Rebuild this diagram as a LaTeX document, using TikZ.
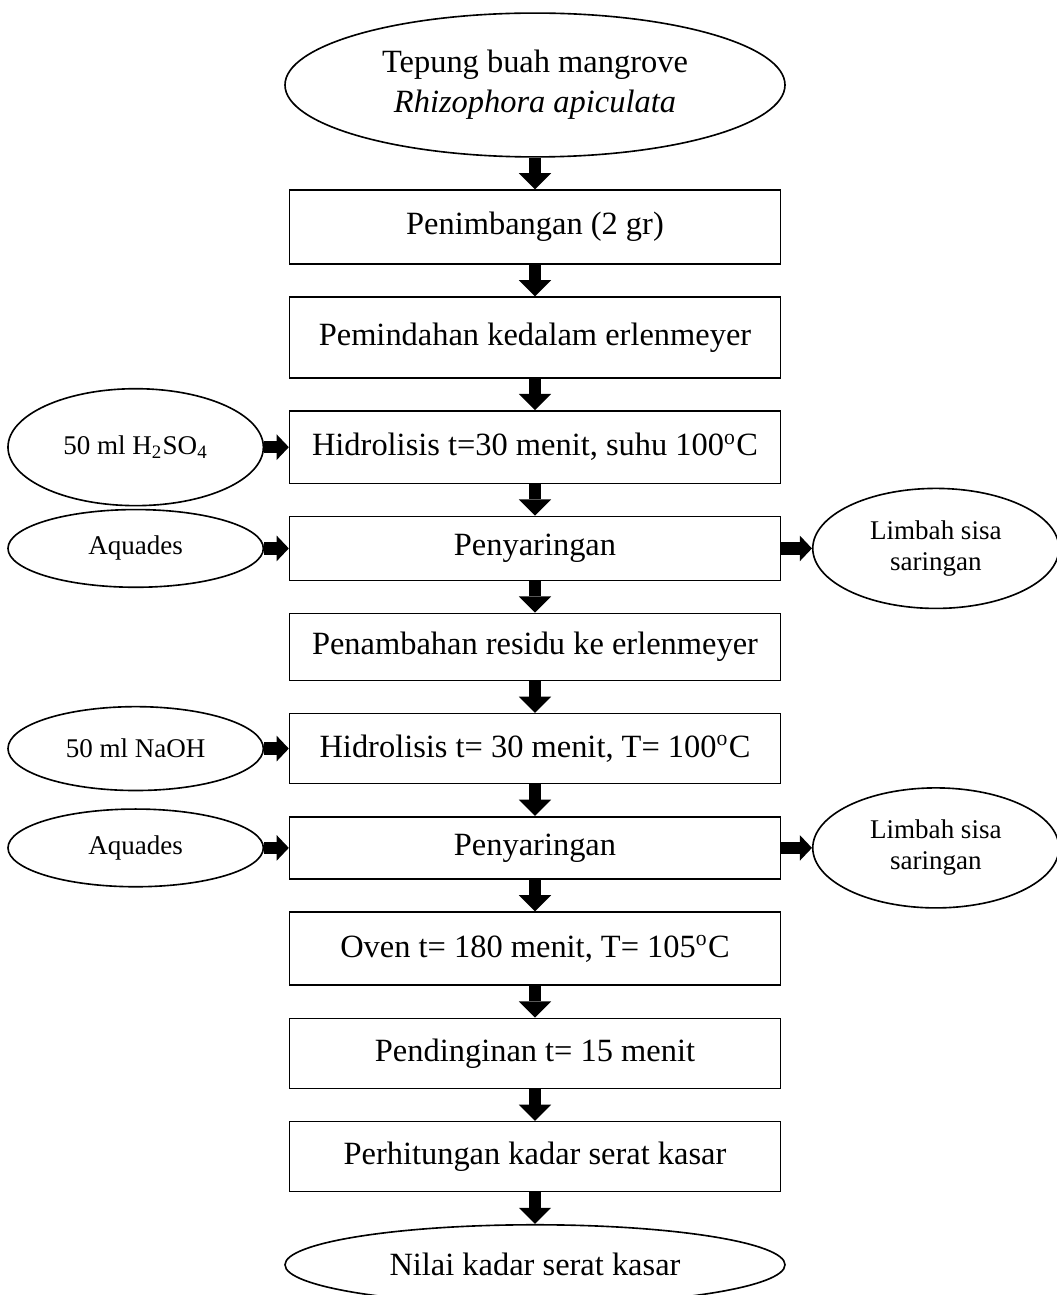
\documentclass[tikz,border=0pt]{standalone}
\usepackage{fontspec}
\setmainfont{Liberation Serif}
\usetikzlibrary{arrows.meta, positioning, shapes.geometric}

\begin{document}
\begin{tikzpicture}[
    node distance=0.41cm and 0.32cm,
    box/.style={rectangle, draw, semithick, minimum width=6.38cm, align=center, font=\fontsize{12}{14.8}\selectfont, inner sep=2pt},
    oval/.style={ellipse, draw, semithick, inner sep=0pt, minimum width=6.5cm, align=center, font=\fontsize{12}{14.8}\selectfont},
    sideoval/.style={ellipse, draw, semithick, inner sep=0pt, minimum width=3.32cm, align=center, font=\fontsize{10}{11.5}\selectfont},
    arrow/.style={-{Triangle[width=12pt, length=6pt, line width=0pt]}, line width=4.8pt},
    sidearrow/.style={-{Triangle[width=9.5pt, length=4.5pt, line width=0pt]}, line width=4.6pt}
]
    \useasboundingbox (-6.955,1.105) rectangle (6.773,-15.73);

    % Bahan awal
    \node[oval, minimum height=1.87cm] (tepung) {Tepung buah mangrove\\\textit{Rhizophora apiculata}};

    % Tahapan utama
    \node[box, minimum height=0.96cm, below=of tepung] (timbang) {Penimbangan (2 gr)};
    \node[box, minimum height=1.05cm, below=of timbang] (pindah) {Pemindahan kedalam erlenmeyer};
    \node[box, minimum height=0.94cm, below=of pindah] (hidroA) {Hidrolisis t=30 menit, suhu 100\textsuperscript{o}C};
    \node[box, minimum height=0.83cm, below=of hidroA] (saringA) {Penyaringan};
    \node[box, minimum height=0.87cm, below=of saringA] (residu) {Penambahan residu ke erlenmeyer};
    \node[box, minimum height=0.91cm, below=of residu] (hidroB) {Hidrolisis t= 30 menit, T= 100\textsuperscript{o}C};
    \node[box, minimum height=0.81cm, below=of hidroB] (saringB) {Penyaringan};
    \node[box, minimum height=0.95cm, below=of saringB] (oven) {Oven t= 180 menit, T= 105\textsuperscript{o}C};
    \node[box, minimum height=0.91cm, below=of oven] (dingin) {Pendinginan t= 15 menit};
    \node[box, minimum height=0.91cm, below=of dingin] (hitung) {Perhitungan kadar serat kasar};

    % Hasil
    \node[oval, minimum height=1.04cm, below=of hitung] (nilai) {Nilai kadar serat kasar};

    % Bahan tambahan dan limbah
    \node[sideoval, minimum height=1.52cm, left=of hidroA] (asam) {50 ml H\textsubscript{2}SO\textsubscript{4}};
    \node[sideoval, minimum height=1.01cm, left=of saringA] (aquaA) {Aquades};
    \node[sideoval, minimum height=1.09cm, left=of hidroB] (basa) {50 ml NaOH};
    \node[sideoval, minimum height=1.01cm, left=of saringB] (aquaB) {Aquades};
    \node[sideoval, minimum width=3.2cm, minimum height=1.56cm, right=0.4cm of saringA] (limbahA) {Limbah sisa\\saringan};
    \node[sideoval, minimum width=3.2cm, minimum height=1.56cm, right=0.4cm of saringB] (limbahB) {Limbah sisa\\saringan};

    % Panah
    \draw[arrow] (tepung) -- (timbang);
    \draw[arrow] (timbang) -- (pindah);
    \draw[arrow] (pindah) -- (hidroA);
    \draw[arrow] (hidroA) -- (saringA);
    \draw[arrow] (saringA) -- (residu);
    \draw[arrow] (residu) -- (hidroB);
    \draw[arrow] (hidroB) -- (saringB);
    \draw[arrow] (saringB) -- (oven);
    \draw[arrow] (oven) -- (dingin);
    \draw[arrow] (dingin) -- (hitung);
    \draw[arrow] (hitung) -- (nilai);
    \draw[sidearrow] (asam) -- (hidroA);
    \draw[sidearrow] (aquaA) -- (saringA);
    \draw[sidearrow] (basa) -- (hidroB);
    \draw[sidearrow] (aquaB) -- (saringB);
    \draw[sidearrow] (saringA) -- (limbahA);
    \draw[sidearrow] (saringB) -- (limbahB);
\end{tikzpicture}
\end{document}
